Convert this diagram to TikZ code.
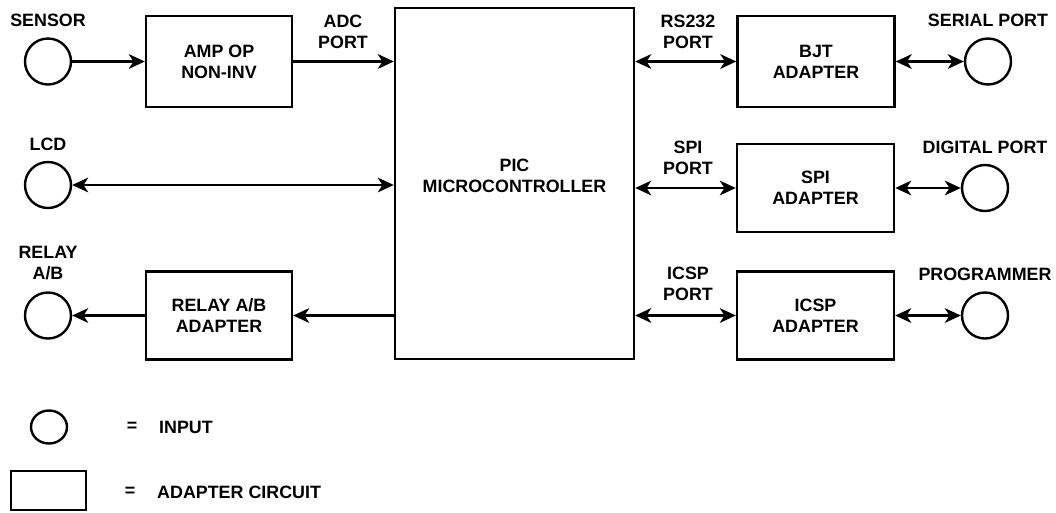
\documentclass[tikz,border=0pt]{standalone}
\usepackage{fontspec}
\setmainfont{Liberation Sans}
\usetikzlibrary{arrows.meta,positioning,shapes.geometric}

\begin{document}
\begin{tikzpicture}[x=0.75pt,y=-0.75pt,line width=1.8pt,
    font=\fontsize{13.4}{15.75}\selectfont\bfseries,
    box/.style={draw,line width=1.8pt,minimum width=117.75pt,minimum height=66pt,align=center},
    port/.style={draw,circle,line width=1.8pt,minimum size=34.5pt,inner sep=0pt},
    lbl/.style={align=center,inner sep=0pt},
    arr/.style={-{Stealth[length=12pt,width=11pt,inset=3.5pt]},line width=1.8pt},
    biarr/.style={{Stealth[length=12pt,width=11pt,inset=3.5pt]}-{Stealth[length=12pt,width=11pt,inset=3.5pt]},line width=1.8pt}]
    \useasboundingbox (0,0) rectangle (1056,512);
    % central block
    \node[draw,line width=1.8pt,minimum width=179.25pt,minimum height=263.25pt] (pic) at (514.5,183.5) {};
    \node[lbl] (pictext) at ([yshift=6pt]pic.center) {PIC\\MICROCONTROLLER};
    % left side
    \node[port] (sensor) at (48,61.5) {};
    \node[port] (lcd) at (48,185) {};
    \node[port] (relay) at (48,315.5) {};
    \node[box,minimum width=109.5pt,minimum height=68.25pt] (amp) at (219,61.5) {AMP OP\\NON-INV};
    \node[box,minimum width=109.5pt] (relayadp) at (219,315.5) {RELAY A/B\\ADAPTER};
    \node[lbl,above=7pt of sensor] (sensorlbl) {SENSOR};
    \node[lbl,above=7pt of lcd] (lcdlbl) {LCD};
    \node[lbl,above=8pt of relay] (relaylbl) {RELAY\\A/B};
    \node[lbl] (adclbl) at (343,32) {ADC\\PORT};
    % right side
    \node[box,minimum height=68.25pt] (bjt) at (816,61.5) {BJT\\ADAPTER};
    \node[box] (spi) at (815.5,188) {SPI\\ADAPTER};
    \node[box] (icsp) at (815.5,315.5) {ICSP\\ADAPTER};
    \node[port] (serial) at (988,61.5) {};
    \node[port] (digital) at (985,188) {};
    \node[port] (prog) at (985,315.5) {};
    \node[lbl,above=7pt of serial] (seriallbl) {SERIAL PORT};
    \node[lbl,above=7pt of digital] (digitallbl) {DIGITAL PORT};
    \node[lbl,above=7pt of prog] (proglbl) {PROGRAMMER};
    \node[lbl] (rslbl) at (688,32) {RS232\\PORT};
    \node[lbl] (spilbl) at (688,158) {SPI\\PORT};
    \node[lbl] (icsplbl) at (688,284) {ICSP\\PORT};
    % connections
    \draw[arr] (sensor) -- (amp);
    \draw[arr] (amp) -- (amp -| pic.west);
    \draw[biarr] (lcd) -- (lcd -| pic.west);
    \draw[arr] (relayadp -| pic.west) -- (relayadp);
    \draw[arr] (relayadp) -- (relay);
    \draw[biarr] (bjt -| pic.east) -- (bjt);
    \draw[biarr] (spi -| pic.east) -- (spi);
    \draw[biarr] (icsp -| pic.east) -- (icsp);
    \draw[biarr] (bjt) -- (serial);
    \draw[biarr] (spi) -- (digital);
    \draw[biarr] (icsp) -- (prog);
    % legend
    \node[draw,ellipse,line width=1.8pt,minimum width=27pt,minimum height=24.75pt,inner sep=0pt] (leginput) at (49,427) {};
    \node[lbl] (eqone) at (132,427) {=};
    \node[lbl,anchor=west] (inputtxt) at (158,427) {INPUT};
    \node[draw,line width=1.8pt,minimum width=56.25pt,minimum height=29.25pt,inner sep=0pt] (legbox) at (48.5,490.5) {};
    \node[lbl] (eqtwo) at (130,492) {=};
    \node[lbl,anchor=west] (adptxt) at (156,492) {ADAPTER CIRCUIT};
\end{tikzpicture}
\end{document}
